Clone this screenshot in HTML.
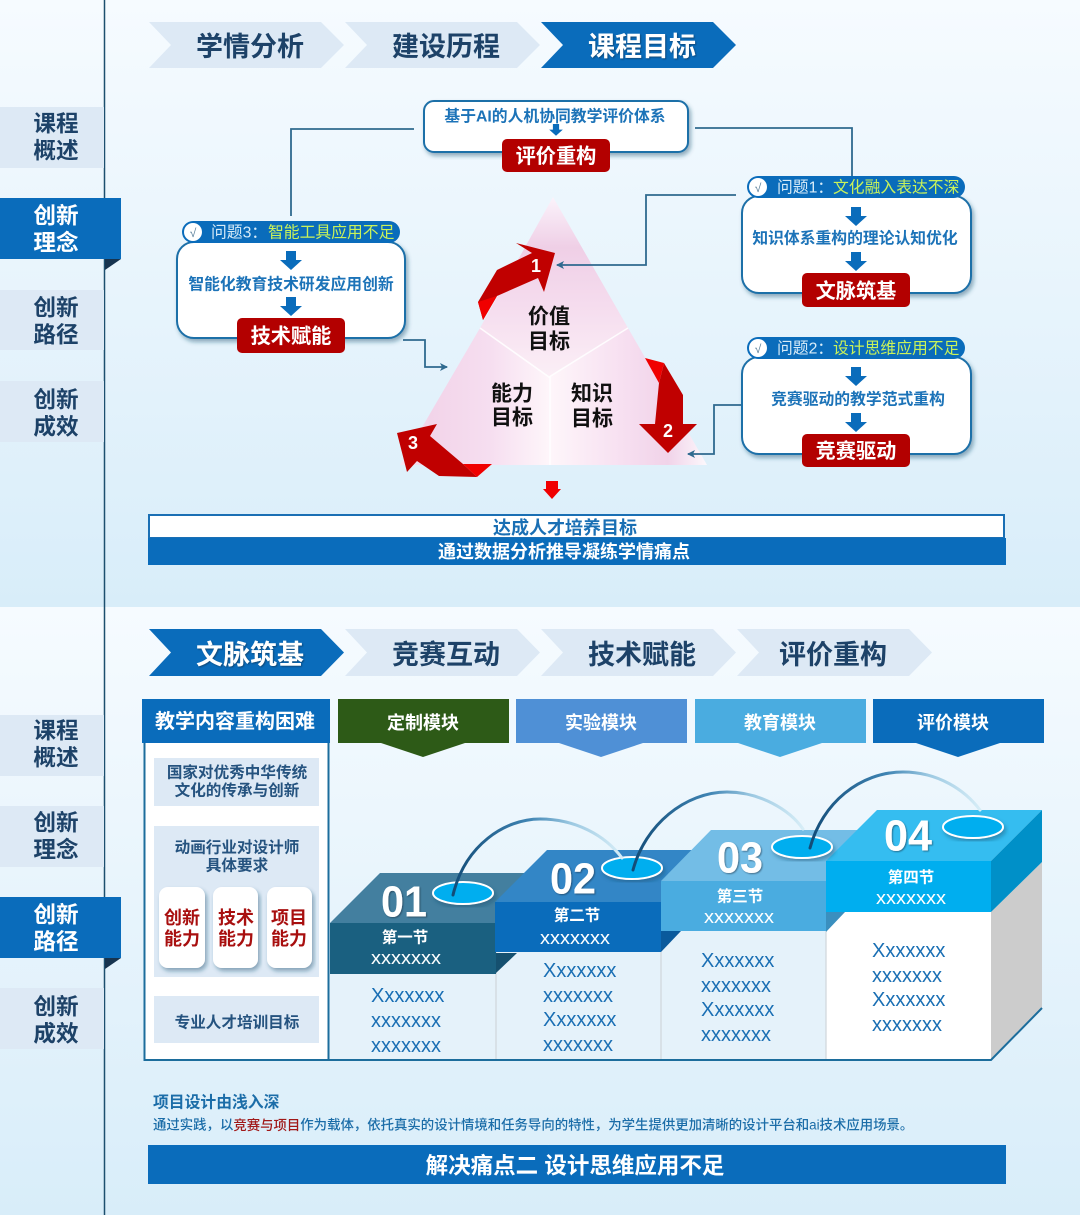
<!DOCTYPE html>
<html lang="zh">
<head>
<meta charset="utf-8">
<title>课程目标与文脉筑基</title>
<style>
html,body{margin:0;padding:0;width:1080px;height:1215px;overflow:hidden;background:#e8f4fb}
svg{display:block}
text{font-family:"Liberation Sans","Noto Sans CJK SC",sans-serif;dominant-baseline:central;transform:translateY(.8px)}
.m{text-anchor:middle}
.b{font-weight:700}
.side{font-size:22.6px;font-weight:700;fill:#1d4268;text-anchor:middle}
.sideA{font-size:22.6px;font-weight:700;fill:#fff;text-anchor:middle}
.chev{font-size:27px;font-weight:700;fill:#1d4268;text-anchor:middle}
.chevA{font-size:27px;font-weight:700;fill:#fff;text-anchor:middle}
.red{font-size:20.2px;font-weight:700;fill:#fff;text-anchor:middle}
.q{font-size:15.8px;fill:#d8ecf8}
.y{font-size:15.8px;fill:#c9f25a}
.bt{font-size:15.8px;font-weight:700;fill:#1c73b8;text-anchor:middle}
.tri{font-size:21px;font-weight:700;fill:#111;text-anchor:middle}
.num{font-size:18px;font-weight:700;fill:#fff;text-anchor:middle}
.mod{font-size:18px;font-weight:700;fill:#fff;text-anchor:middle}
.g{font-size:15.6px;font-weight:700;fill:#25537f;text-anchor:middle}
.r{font-size:18px;font-weight:700;fill:#a80f0f;text-anchor:middle}
.big{font-size:44px;font-weight:700;fill:#fff;text-anchor:middle}
.sec{font-size:15.5px;font-weight:700;fill:#fff;text-anchor:middle}
.xs{font-size:18px;fill:#fff;text-anchor:middle}
.x{font-size:20px;fill:#1a6fb4}
</style>
</head>
<body>
<svg width="1080" height="1215" viewBox="0 0 1080 1215" xmlns="http://www.w3.org/2000/svg">
<defs>
<linearGradient id="bg" x1="0" y1="0" x2="0" y2="1"><stop offset="0" stop-color="#f6fbff"/><stop offset="1" stop-color="#d8edf9"/></linearGradient>
<linearGradient id="kT" gradientUnits="userSpaceOnUse" x1="0" y1="197" x2="0" y2="377"><stop offset="0" stop-color="#fbf3fb"/><stop offset=".28" stop-color="#efcfe6"/><stop offset=".6" stop-color="#f5dcee"/><stop offset="1" stop-color="#fbeff6"/></linearGradient>
<linearGradient id="kL" gradientUnits="userSpaceOnUse" x1="400" y1="0" x2="550" y2="0"><stop offset="0" stop-color="#f6e6f3"/><stop offset=".2" stop-color="#f2d4e9"/><stop offset=".6" stop-color="#f6def0"/><stop offset="1" stop-color="#fef6fa"/></linearGradient>
<linearGradient id="kR" gradientUnits="userSpaceOnUse" x1="550" y1="0" x2="707" y2="0"><stop offset="0" stop-color="#fef6fa"/><stop offset=".45" stop-color="#f7e0f1"/><stop offset=".75" stop-color="#f1d3e9"/><stop offset="1" stop-color="#fcf8fc"/></linearGradient>
<linearGradient id="arc" x1="0" y1="0" x2="1" y2="0"><stop offset="0" stop-color="#124c78"/><stop offset=".45" stop-color="#3f84b3"/><stop offset=".7" stop-color="#9cc9e2"/><stop offset="1" stop-color="#d6edf7"/></linearGradient>
<filter id="sh" x="-10%" y="-15%" width="120%" height="130%"><feDropShadow dx="2" dy="3" stdDeviation="2" flood-color="#1d4d70" flood-opacity=".45"/></filter>
<filter id="ts" x="-10%" y="-20%" width="125%" height="140%"><feDropShadow dx="1" dy="1" stdDeviation=".7" flood-color="#123" flood-opacity=".5"/></filter>
<path id="da" d="M-5,0 H5 V9 H11 L0,19 L-11,9 H-5Z" fill="#0a6cbb"/>
<marker id="ah" markerWidth="9" markerHeight="8" refX="7" refY="4" orient="auto" markerUnits="userSpaceOnUse"><path d="M0,0 L8,4 L0,8 L2,4Z" fill="#2f6a8f"/></marker>
</defs>

<!-- panels -->
<rect x="0" y="0" width="1080" height="607" fill="url(#bg)"/>
<rect x="0" y="607" width="1080" height="608" fill="url(#bg)"/>
<line x1="104.5" y1="0" x2="104.5" y2="1215" stroke="#1c4f6e" stroke-width="1.5"/>

<!-- top side nav -->
<rect x="0" y="107" width="104" height="61" fill="#dde9f5"/>
<rect x="0" y="290" width="104" height="60" fill="#dde9f5"/>
<rect x="0" y="381" width="104" height="61" fill="#dde9f5"/>
<rect x="0" y="198" width="121" height="61" fill="#0a6cbb"/>
<polygon points="105,259 121,259 105,270" fill="#17344f"/>
<text class="side" x="56" y="123">课程</text><text class="side" x="56" y="150">概述</text>
<text class="sideA" x="56" y="215">创新</text><text class="sideA" x="56" y="242">理念</text>
<text class="side" x="56" y="307">创新</text><text class="side" x="56" y="334">路径</text>
<text class="side" x="56" y="399">创新</text><text class="side" x="56" y="426">成效</text>

<!-- top chevrons -->
<polygon points="149,22 321,22 344,45 321,68 149,68 171,45" fill="#dde9f5"/>
<polygon points="345,22 517,22 540,45 517,68 345,68 367,45" fill="#dde9f5"/>
<polygon points="541,22 713,22 736,45 713,68 541,68 563,45" fill="#0a6cbb"/>
<text class="chev" x="250" y="46">学情分析</text>
<text class="chev" x="446" y="46">建设历程</text>
<text class="chevA" x="642" y="46" filter="url(#ts)">课程目标</text>

<!-- triangle -->
<polygon points="553,197 628,328 549,377 480,328" fill="url(#kT)"/>
<polygon points="480,328 549,377 550,465 400,465" fill="url(#kL)"/>
<polygon points="628,328 707,465 550,465 549,377" fill="url(#kR)"/>
<g stroke="#fff" stroke-opacity=".85" stroke-width="1.6" fill="none">
<path d="M480,328 L549,377 L628,328"/>
<path d="M550,377 V465"/>
</g>
<text class="tri" x="549" y="316">价值</text><text class="tri" x="549" y="341">目标</text>
<text class="tri" x="512" y="393">能力</text><text class="tri" x="512" y="417">目标</text>
<text class="tri" x="592" y="393">知识</text><text class="tri" x="592" y="418">目标</text>

<!-- connectors -->
<g fill="none" stroke="#2f6a8f" stroke-width="1.8">
<path d="M414,129 H291 V216"/>
<path d="M695,128 H852 V176"/>
<path d="M736,195 H646 V265 H557" marker-end="url(#ah)"/>
<path d="M742,405 H714 V454 H688" marker-end="url(#ah)"/>
<path d="M403,340 H425 V367 H447" marker-end="url(#ah)"/>
</g>

<!-- red arrows -->
<polygon points="483,320 478,302 497,270 532,253 516,243 555,253 544,292 538,278 497,296" fill="#c00000"/>
<polygon points="478,302 497,296 483,320" fill="#f00000"/>
<polygon points="664,363 683,395 683,424 697,424 668,453 639,424 655,424 659,383" fill="#c00000"/>
<polygon points="645,358 664,363 659,383" fill="#f00000"/>
<polygon points="397,433 437,424 430,436 463,464 477,477 439,476 417,461 407,472" fill="#c00000"/>
<polygon points="463,464 492,464 477,477" fill="#f00000"/>
<text class="num" x="536" y="265">1</text>
<text class="num" x="668" y="430">2</text>
<text class="num" x="413" y="442">3</text>

<!-- top box -->
<rect x="424" y="101" width="264" height="51" rx="10" fill="#fff" stroke="#1f6fa8" stroke-width="2" filter="url(#sh)"/>
<text class="m b" x="555" y="116" style="font-size:15.8px;fill:#1c73b8">基于AI的人机协同教学评价体系</text>
<use href="#da" x="556" y="124" transform="translate(556 124) scale(.62) translate(-556 -124)"/>
<rect x="502" y="139" width="108" height="33" rx="5" fill="#b30000"/>
<text class="red" x="556" y="156">评价重构</text>

<!-- left box -->
<rect x="177" y="242" width="228" height="96" rx="17" fill="#fff" stroke="#1f6fa8" stroke-width="2" filter="url(#sh)"/>
<rect x="182" y="221" width="218" height="22" rx="11" fill="#0a6cbb"/>
<circle cx="193" cy="232" r="9" fill="#fff"/>
<text class="m" x="193" y="232" style="font-size:12px;fill:#5a7f9a">√</text>
<text class="q" x="211" y="232">问题3：</text>
<text class="y" x="268" y="232">智能工具应用不足</text>
<use href="#da" x="291" y="251"/>
<text class="bt" x="291" y="284">智能化教育技术研发应用创新</text>
<use href="#da" x="291" y="297"/>
<rect x="237" y="318" width="108" height="35" rx="5" fill="#b30000"/>
<text class="red" x="291" y="336">技术赋能</text>

<!-- right box 1 -->
<rect x="742" y="196" width="229" height="97" rx="17" fill="#fff" stroke="#1f6fa8" stroke-width="2" filter="url(#sh)"/>
<rect x="747" y="176" width="218" height="22" rx="11" fill="#0a6cbb"/>
<circle cx="758" cy="187" r="9" fill="#fff"/>
<text class="m" x="758" y="187" style="font-size:12px;fill:#5a7f9a">√</text>
<text class="q" x="777" y="187">问题1：</text>
<text class="y" x="833" y="187">文化融入表达不深</text>
<use href="#da" x="856" y="207"/>
<text class="bt" x="855" y="238">知识体系重构的理论认知优化</text>
<use href="#da" x="856" y="252"/>
<rect x="802" y="273" width="108" height="34" rx="5" fill="#b30000"/>
<text class="red" x="856" y="291">文脉筑基</text>

<!-- right box 2 -->
<rect x="742" y="357" width="229" height="97" rx="17" fill="#fff" stroke="#1f6fa8" stroke-width="2" filter="url(#sh)"/>
<rect x="747" y="337" width="218" height="22" rx="11" fill="#0a6cbb"/>
<circle cx="758" cy="348" r="9" fill="#fff"/>
<text class="m" x="758" y="348" style="font-size:12px;fill:#5a7f9a">√</text>
<text class="q" x="777" y="348">问题2：</text>
<text class="y" x="833" y="348">设计思维应用不足</text>
<use href="#da" x="856" y="367"/>
<text class="bt" x="858" y="399">竞赛驱动的教学范式重构</text>
<use href="#da" x="856" y="413"/>
<rect x="802" y="434" width="108" height="33" rx="5" fill="#b30000"/>
<text class="red" x="856" y="451">竞赛驱动</text>

<!-- small red arrow -->
<path d="M546,481 H558 V489 H561 L552,499 L543,489 H546Z" fill="#f00000"/>

<!-- banner -->
<rect x="149" y="515" width="855" height="23" fill="#fff" stroke="#1a6fb4" stroke-width="2"/>
<text class="m b" x="565" y="527" style="font-size:18px;fill:#1a6fb4">达成人才培养目标</text>
<rect x="148" y="538" width="858" height="27" fill="#0a6cbb"/>
<text class="m b" x="564" y="551" style="font-size:18px;fill:#fff">通过数据分析推导凝练学情痛点</text>

<!-- bottom side nav -->
<rect x="0" y="715" width="104" height="61" fill="#dde9f5"/>
<rect x="0" y="806" width="104" height="61" fill="#dde9f5"/>
<rect x="0" y="988" width="104" height="61" fill="#dde9f5"/>
<rect x="0" y="897" width="121" height="61" fill="#0a6cbb"/>
<polygon points="105,958 121,958 105,969" fill="#17344f"/>
<text class="side" x="56" y="730">课程</text><text class="side" x="56" y="757">概述</text>
<text class="side" x="56" y="822">创新</text><text class="side" x="56" y="849">理念</text>
<text class="sideA" x="56" y="914">创新</text><text class="sideA" x="56" y="941">路径</text>
<text class="side" x="56" y="1006">创新</text><text class="side" x="56" y="1033">成效</text>

<!-- bottom chevrons -->
<polygon points="149,629 321,629 344,652.500 321,676 149,676 171,652.500" fill="#0a6cbb"/>
<polygon points="345,629 517,629 540,652.500 517,676 345,676 367,652.500" fill="#dde9f5"/>
<polygon points="541,629 713,629 736,652.500 713,676 541,676 563,652.500" fill="#dde9f5"/>
<polygon points="737,629 909,629 932,652.500 909,676 737,676 759,652.500" fill="#dde9f5"/>
<text class="chevA" x="250" y="654" filter="url(#ts)">文脉筑基</text>
<text class="chev" x="446" y="654">竞赛互动</text>
<text class="chev" x="642" y="654">技术赋能</text>
<text class="chev" x="833" y="654">评价重构</text>

<!-- left column -->
<rect x="144.500" y="730" width="184" height="330" fill="#fff" stroke="#1c6d9c" stroke-width="2"/>
<rect x="142" y="699" width="188" height="44" fill="#0a6cbb"/>
<text class="m b" x="235" y="721" style="font-size:20px;fill:#fff">教学内容重构困难</text>
<rect x="154" y="758" width="165" height="48" fill="#dde9f5"/>
<rect x="154" y="826" width="165" height="151" fill="#dde9f5"/>
<rect x="154" y="996" width="165" height="47" fill="#dde9f5"/>
<text class="g" x="237" y="772">国家对优秀中华传统</text>
<text class="g" x="237" y="790">文化的传承与创新</text>
<text class="g" x="237" y="847">动画行业对设计师</text>
<text class="g" x="237" y="865">具体要求</text>
<text class="g" x="237" y="1022">专业人才培训目标</text>
<rect x="159" y="887" width="46" height="81" rx="9" fill="#fff" filter="url(#sh)"/>
<rect x="213" y="887" width="45" height="81" rx="9" fill="#fff" filter="url(#sh)"/>
<rect x="267" y="887" width="45" height="81" rx="9" fill="#fff" filter="url(#sh)"/>
<text class="r" x="182" y="917">创新</text><text class="r" x="182" y="938">能力</text>
<text class="r" x="236" y="917">技术</text><text class="r" x="236" y="938">能力</text>
<text class="r" x="289" y="917">项目</text><text class="r" x="289" y="938">能力</text>

<!-- module headers -->
<polygon points="338,699 509,699 509,743 465,743 423,757 381,743 338,743" fill="#2d5a17"/>
<polygon points="516,699 687,699 687,743 643,743 601,757 559,743 516,743" fill="#4f90d6"/>
<polygon points="695,699 866,699 866,743 822,743 780,757 738,743 695,743" fill="#4aace0"/>
<polygon points="873,699 1044,699 1044,743 1000,743 958,757 916,743 873,743" fill="#0a6cbb"/>
<text class="mod" x="423" y="722">定制模块</text>
<text class="mod" x="601" y="722">实验模块</text>
<text class="mod" x="780" y="722">教育模块</text>
<text class="mod" x="953" y="722">评价模块</text>

<!-- stairs bodies -->
<rect x="330" y="974" width="166" height="86" fill="#e5f2fa"/>
<rect x="496" y="952" width="165" height="108" fill="#e5f2fa"/>
<rect x="661" y="931" width="165" height="129" fill="#e5f2fa"/>
<rect x="826" y="912" width="165" height="148" fill="#fff"/>
<polygon points="991,912 1042,862 1042,1008 991,1060" fill="#cccccc"/>
<g stroke="#cfd6da" stroke-width="1.2"><line x1="496" y1="952" x2="496" y2="1060"/><line x1="661" y1="931" x2="661" y2="1060"/><line x1="826" y1="912" x2="826" y2="1060"/></g>
<path d="M329,1060 H991 L1042,1008" fill="none" stroke="#1c6d9c" stroke-width="2"/>

<!-- step 1 -->
<polygon points="330,923 380,873 525,873 496,923" fill="#437f9f"/>
<rect x="330" y="923" width="166" height="51" fill="#1a6080"/>
<!-- step 2 -->
<polygon points="496,953 517,953 496,973" fill="#15506f"/>
<polygon points="495,902 547,850 700,850 661,902" fill="#3386c6"/>
<rect x="495" y="902" width="166" height="50" fill="#0a6cbb"/>
<!-- step 3 -->
<polygon points="661,931 681,931 661,952" fill="#0a5a9c"/>
<polygon points="661,881 711,830 860,830 826,881" fill="#73bde6"/>
<rect x="661" y="881" width="165" height="50" fill="#4aace0"/>
<!-- step 4 -->
<polygon points="826,912 845,912 826,932" fill="#3a8fbf"/>
<polygon points="826,861 877,810 1042,810 991,861" fill="#35bdf0"/>
<polygon points="991,861 1042,810 1042,862 991,912" fill="#0090c8"/>
<rect x="826" y="861" width="165" height="51" fill="#00aeef"/>

<!-- ellipses -->
<ellipse cx="463" cy="893" rx="30" ry="11" fill="#00aeef" stroke="#fff" stroke-width="2" filter="url(#sh)"/>
<ellipse cx="632" cy="868" rx="30" ry="11" fill="#00aeef" stroke="#fff" stroke-width="2" filter="url(#sh)"/>
<ellipse cx="802" cy="847" rx="30" ry="11" fill="#00aeef" stroke="#fff" stroke-width="2" filter="url(#sh)"/>
<ellipse cx="973" cy="827" rx="30" ry="11" fill="#00aeef" stroke="#fff" stroke-width="2" filter="url(#sh)"/>

<!-- arcs -->
<g fill="none" stroke="url(#arc)" stroke-width="3" stroke-linecap="round">
<path d="M453,895 C465,845 505,819 540,819 C575,819 605,835 622,858"/>
<path d="M633,870 C645,825 685,792 727,792 C760,792 790,810 803,829"/>
<path d="M810,848 C822,803 860,772 903,772 C938,772 965,790 980,810"/>
</g>

<!-- step labels -->
<text class="big" x="404" y="901" textLength="46" lengthAdjust="spacingAndGlyphs" filter="url(#ts)">01</text>
<text class="big" x="573" y="878" textLength="46" lengthAdjust="spacingAndGlyphs" filter="url(#ts)">02</text>
<text class="big" x="740" y="857" textLength="46" lengthAdjust="spacingAndGlyphs" filter="url(#ts)">03</text>
<text class="big" x="908" y="835" textLength="48" lengthAdjust="spacingAndGlyphs" filter="url(#ts)">04</text>
<text class="sec" x="405" y="937">第一节</text>
<text class="sec" x="577" y="915">第二节</text>
<text class="sec" x="740" y="896">第三节</text>
<text class="sec" x="911" y="877">第四节</text>
<text class="xs" x="406" y="957" textLength="70" lengthAdjust="spacingAndGlyphs">xxxxxxx</text>
<text class="xs" x="575" y="937" textLength="70" lengthAdjust="spacingAndGlyphs">xxxxxxx</text>
<text class="xs" x="739" y="916" textLength="70" lengthAdjust="spacingAndGlyphs">xxxxxxx</text>
<text class="xs" x="911" y="897" textLength="70" lengthAdjust="spacingAndGlyphs">xxxxxxx</text>

<g>
<text class="x" x="371" y="995">Xxxxxxx</text><text class="x" x="371" y="1020">xxxxxxx</text><text class="x" x="371" y="1045">xxxxxxx</text>
<text class="x" x="543" y="970">Xxxxxxx</text><text class="x" x="543" y="995">xxxxxxx</text><text class="x" x="543" y="1019">Xxxxxxx</text><text class="x" x="543" y="1044">xxxxxxx</text>
<text class="x" x="701" y="960">Xxxxxxx</text><text class="x" x="701" y="985">xxxxxxx</text><text class="x" x="701" y="1009">Xxxxxxx</text><text class="x" x="701" y="1034">xxxxxxx</text>
<text class="x" x="872" y="950">Xxxxxxx</text><text class="x" x="872" y="975">xxxxxxx</text><text class="x" x="872" y="999">Xxxxxxx</text><text class="x" x="872" y="1024">xxxxxxx</text>
</g>

<!-- footer -->
<text class="b" x="153" y="1102" style="font-size:15.800px;fill:#1b6da8">项目设计由浅入深</text>
<text x="153" y="1124" style="font-size:13.400px;fill:#1b6da8;font-weight:500">通过实践，以<tspan fill="#a01818">竞赛与项目</tspan>作为载体，依托真实的设计情境和任务导向的特性，为学生提供更加清晰的设计平台和ai技术应用场景。</text>
<rect x="148" y="1145" width="858" height="39" fill="#0a6cbb"/>
<text class="m b" x="575" y="1165" style="font-size:22.500px;fill:#fff">解决痛点二 设计思维应用不足</text>
</svg>
</body>
</html>
